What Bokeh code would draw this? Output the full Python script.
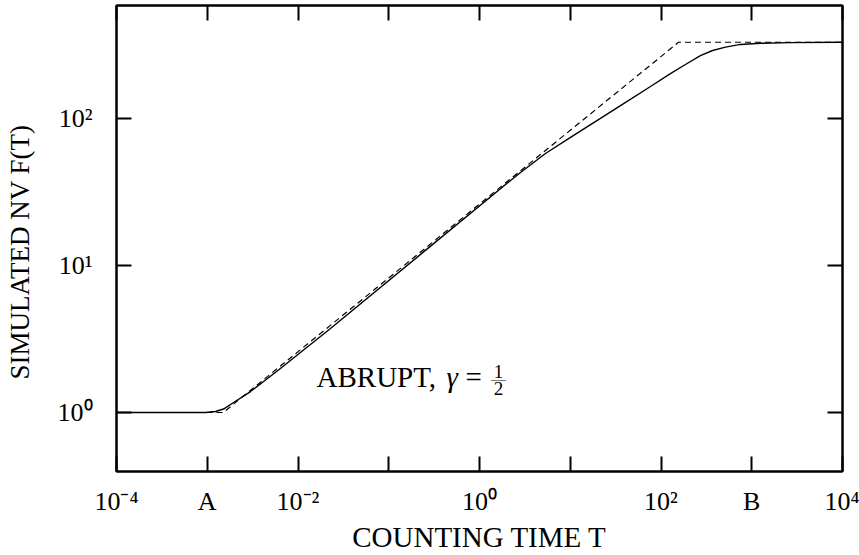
from math import log10
from bokeh.plotting import figure
from bokeh.models import LogAxis, FixedTicker, Label, CustomJSTickFormatter
from bokeh.embed import file_html
from bokeh.resources import INLINE

# ---------------- data ----------------
solid_T = [1e-4, 9.57e-4, 1.23e-3, 1.51e-3, 1.95e-3, 3.00e-3, 6.10e-3, 0.0228, 0.224,
           2.20, 2.83, 5.33, 10.07, 35.8, 76.6, 127.0, 186.0, 272.0, 370.0, 514.0,
           752.0, 1248.0, 2673.0, 1e4]
solid_F = [1.0, 1.0, 1.016, 1.056, 1.17, 1.389, 1.945, 3.73, 11.9,
           37.9, 42.9, 57.8, 74.3, 122.5, 165.0, 202.0, 233.0, 268.0, 290.0, 306.0,
           319.0, 325.0, 328.0, 330.0]
dashed_T = [1e-4, 1.5e-3, 156.0, 1e4]
dashed_F = [1.0, 1.0, 330.0, 330.0]

x_ticks = [1e-4, 1e-3, 1e-2, 1e-1, 1e0, 1e1, 1e2, 1e3, 1e4]
x_tick_labels = ["10\u207b\u2074", "A", "10\u207b\u00b2", " ", "10\u2070", " ",
                 "10\u00b2", "B", "10\u2074"]
y_ticks = [1.0, 10.0, 100.0]
y_tick_labels = ["10\u2070", "10\u00b9", "10\u00b2"]

x_title = "COUNTING TIME T"
y_title = "SIMULATED NV F(T)"
note_text, note_var, note_eq, note_num, note_den = "ABRUPT,", "\u03b3", "=", "1", "2"

# ---------------- layout ----------------
X0, X1 = 1e-4, 1e4
Y0, Y1 = 0.397, 587.0
W, H = 859, 555
ML, MR, MT, MB = 116, 17, 5, 84
FL, FR, FT, FB = ML, W - MR, MT, H - MB

FONT = "Liberation Serif"

p = figure(width=W, height=H, x_axis_type="log", y_axis_type="log",
           x_range=(X0, X1), y_range=(Y0, Y1),
           output_backend="svg", toolbar_location=None,
           min_border_left=ML, min_border_right=MR,
           min_border_top=MT, min_border_bottom=MB)
p.grid.visible = False
p.outline_line_color = "black"
p.outline_line_width = 2
p.background_fill_color = "white"
p.border_fill_color = "white"

p.add_layout(LogAxis(), "above")
p.add_layout(LogAxis(), "right")

for ax in p.below + p.above:
    ax.ticker = FixedTicker(ticks=x_ticks, minor_ticks=[])
for ax in p.left + p.right:
    ax.ticker = FixedTicker(ticks=y_ticks, minor_ticks=[])
for ax in p.below + p.above + p.left + p.right:
    ax.major_tick_in = 15
    ax.major_tick_out = 0
    ax.minor_tick_line_color = None
    ax.major_tick_line_width = 2
    ax.major_tick_line_color = "black"
    ax.axis_line_width = 2
    ax.axis_line_color = "black"
    ax.major_label_text_font = FONT
    ax.major_label_text_color = "black"
    ax.axis_label_text_font = FONT
    ax.axis_label_text_font_style = "normal"
    ax.axis_label_text_color = "black"

for ax in p.above + p.right:
    ax.formatter = CustomJSTickFormatter(code="return ' '")
    ax.major_label_text_font_size = "2px"
    ax.major_label_standoff = 0

xa = p.below[0]
xa.major_label_overrides = {t: s for t, s in zip(x_ticks, x_tick_labels)}
xa.major_label_text_font_size = "26px"
xa.major_label_standoff = 15
xa.axis_label = x_title
xa.axis_label_text_font_size = "29px"
xa.axis_label_standoff = 2

ya = p.left[0]
ya.major_label_overrides = {t: s for t, s in zip(y_ticks, y_tick_labels)}
ya.major_label_text_font_size = "26px"
ya.major_label_text_align = "right"
ya.major_label_text_baseline = "middle"
ya.major_label_standoff = 24
ya.axis_label = y_title + "\u00a0" * 4
ya.axis_label_text_font_size = "27px"
ya.axis_label_standoff = 20

p.line(dashed_T, dashed_F, line_color="black", line_width=1.2, line_dash="6 4")
p.line(solid_T, solid_F, line_color="black", line_width=1.4)

def lab(px, py, text, size, align="left", italic=False):
    """Place a text inside the frame at page pixel (px, py), anchored on its baseline."""
    p.add_layout(Label(x=px - FL, y=FB - py, x_units="screen", y_units="screen",
                       text=text, text_font=FONT,
                       text_font_size=f"{size}px", text_align=align,
                       text_baseline="alphabetic", text_color="black",
                       text_font_style="italic" if italic else "normal"))

# annotation
lab(316, 376, note_text, 29)
lab(446, 376, note_var, 29, italic=True)
lab(465, 376, note_eq, 29)
lab(498, 371, note_num, 19, align="center")
lab(498, 388, note_den, 19, align="center")
lab(498, 378, "\u2014", 15, align="center")

open("out.html", "w").write(file_html(p, INLINE))
